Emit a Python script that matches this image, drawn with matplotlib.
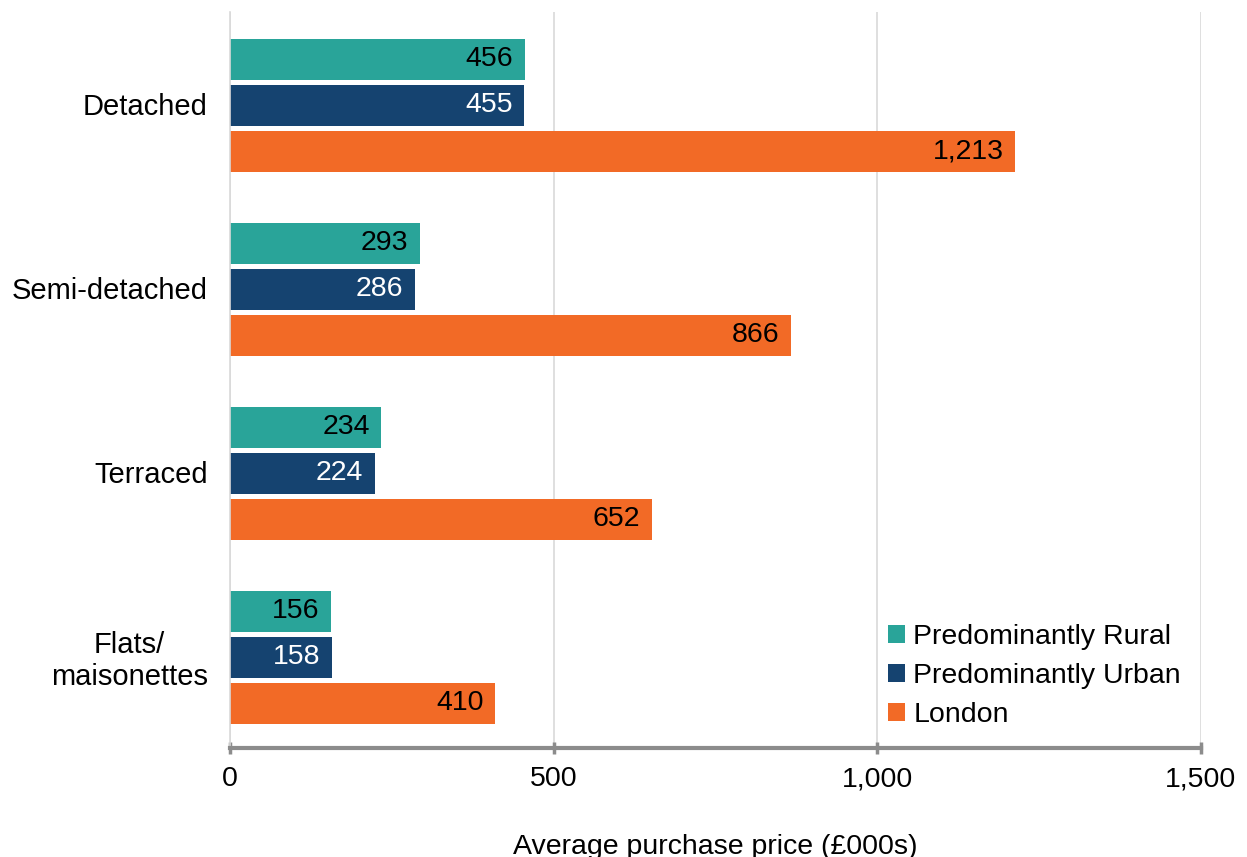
import numpy as np
import matplotlib.pyplot as plt
import matplotlib.ticker as ticker

plt.rcParams['font.family'] = ['Liberation Sans', 'DejaVu Sans']

categories = ['Detached', 'Semi-detached', 'Terraced', 'Flats/\nmaisonettes']
rural = [456, 293, 234, 156]
urban = [455, 286, 224, 158]
london = [1213, 866, 652, 410]
series_names = ['Predominantly Rural', 'Predominantly Urban', 'London']

COLORS = ['#29A499', '#154370', '#F26A26']
LABEL_COLORS = ['black', 'white', 'black']
FS = 20.5

fig = plt.figure(figsize=(12.47, 8.57), dpi=100)
ax = fig.add_axes([0.1844, 0.1272, 0.7787, 0.8588])

y = np.arange(len(categories))
offsets = [-0.25, 0, 0.25]
bar_h = 0.225

handles = []
for vals, off, col, lc, name in zip([rural, urban, london], offsets, COLORS, LABEL_COLORS, series_names):
    bars = ax.barh(y + off + 0.008, vals, height=bar_h, color=col, label=name)
    handles.append(bars)
    for b, v in zip(bars, vals):
        ax.text(v - 18, b.get_y() + b.get_height() / 2, f'{v:,}',
                ha='right', va='center', color=lc, fontsize=FS)

ax.set_xlim(0, 1500)
ax.set_ylim(3.5, -0.5)
ax.set_yticks(y)
ax.set_yticklabels(categories, fontsize=21, ha='right')
for lbl in ax.get_yticklabels():
    lbl.set_multialignment('center')
ax.tick_params(axis='y', length=0, pad=16)
ax.set_xticks([0, 500, 1000, 1500])
ax.xaxis.set_major_formatter(ticker.FuncFormatter(lambda x, p: f'{x:,.0f}'))
ax.tick_params(axis='x', labelsize=FS, length=8, width=2.5, color='#8C8C8C',
               direction='inout', pad=9)
ax.set_xlabel('Average purchase price (£000s)', fontsize=FS, labelpad=30)

ax.grid(axis='x', color='#D9D9D9', linewidth=1.2)
ax.set_axisbelow(True)
for s in ['top', 'right']:
    ax.spines[s].set_visible(False)
ax.spines['left'].set_color('#D9D9D9')
ax.spines['left'].set_linewidth(1.2)
ax.spines['bottom'].set_color('#8C8C8C')
ax.spines['bottom'].set_linewidth(3)

ax.legend(handles=handles, loc='lower right', bbox_to_anchor=(1.0, 0.0), frameon=False,
          fontsize=FS, handlelength=0.6, handleheight=0.6, handletextpad=0.3,
          labelspacing=0.45, borderaxespad=0.3)

fig.savefig('out.png', dpi=100)
